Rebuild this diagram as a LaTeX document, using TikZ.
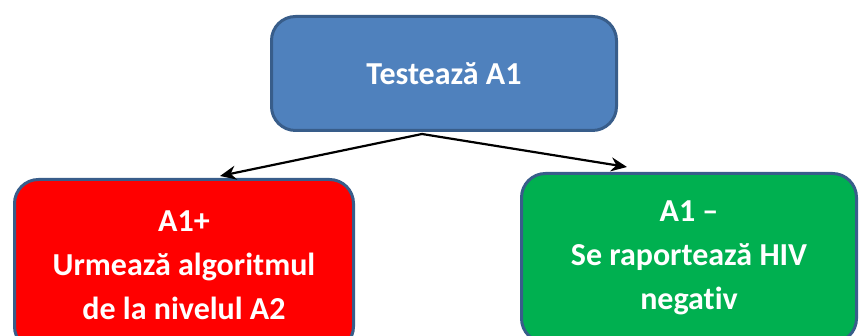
\documentclass[tikz,border=0pt]{standalone}
\usepackage{fontspec}
\setmainfont{Carlito}[Ligatures=CommonOff]
\usepackage{xcolor}
\usetikzlibrary{arrows.meta}
\definecolor{boxblue}{HTML}{4F81BD}
\definecolor{boxedge}{HTML}{385D8A}
\definecolor{boxred}{HTML}{FF0000}
\definecolor{boxgreen}{HTML}{00B050}
\begin{document}
\begin{tikzpicture}[x=1pt, y=1pt, thick,
    main/.style = {draw=boxedge, line width=3pt, rounded corners=24pt, text=white,
      font=\fontsize{32}{44}\selectfont\bfseries, align=center, inner sep=0pt},
    arr/.style = {-{Stealth[length=16pt, width=14pt]}, line width=2.2pt}]
            \clip (0,0) rectangle (859,336);
            \node[main, fill=boxblue, minimum width=345pt, minimum height=114pt] (test) at (444,262.5) {Testează A1};
            \node[main, fill=boxred, minimum width=339pt, minimum height=171pt] (pos) at (184,71) {A1+\\Urmează algoritmul\\de la nivelul A2};
            \node[main, fill=boxgreen, minimum width=335pt, minimum height=169pt] (neg) at (689,78) {A1 --\\Se raportează HIV\\negativ};

            \draw[arr] ([xshift=-22pt, yshift=-2pt]test.south) -- ([xshift=36pt, yshift=2pt]pos.north);
            \draw[arr] ([xshift=-22pt, yshift=-2pt]test.south) -- ([xshift=-62pt, yshift=5pt]neg.north);
        \end{tikzpicture}
\end{document}
